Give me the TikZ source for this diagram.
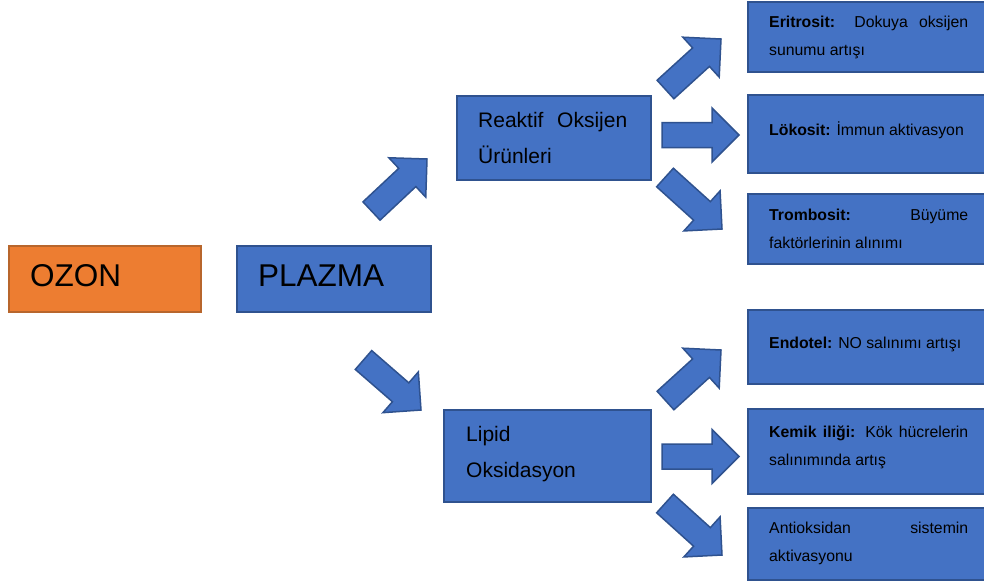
\documentclass[tikz,border=0pt]{standalone}
\usepackage{fontspec}
\setmainfont{Liberation Sans}
\usetikzlibrary{calc}
\definecolor{boxblue}{HTML}{4472C4}
\definecolor{boxblueline}{HTML}{2F528F}
\definecolor{ozonfill}{HTML}{ED7D31}
\definecolor{ozonline}{HTML}{B8662C}
\tikzset{
  bluebox/.style={rectangle, draw=boxblueline, fill=boxblue, line width=1.5pt, inner sep=0pt, anchor=north west},
  orangebox/.style={rectangle, draw=ozonline, fill=ozonfill, line width=1.5pt, inner sep=0pt, anchor=north west},
  lbl/.style={inner sep=0pt, anchor=base west, text=black},
  blockarrow/.style={draw=boxblueline, fill=boxblue, line width=1.5pt, line join=miter},
}
\newcommand\bigfnt{\fontsize{31.5}{36}\selectfont}
\newcommand\midfnt{\fontsize{21}{36}\selectfont}
\newcommand\smallfnt{\fontsize{15.8}{28}\selectfont}
% block arrow from tail coordinate #1 to tip coordinate #2
\newcommand\blockarr[2]{%
  \coordinate (#1-h) at ($(#2)!27pt!(#1)$);
  \path[blockarrow]
    ($(#1)!12.5pt!90:(#2)$) -- ($(#1-h)!12.5pt!90:(#2)$) -- ($(#1-h)!27pt!90:(#2)$)
    -- (#2)
    -- ($(#1-h)!27pt!-90:(#2)$) -- ($(#1-h)!12.5pt!-90:(#2)$) -- ($(#1)!12.5pt!-90:(#2)$) -- cycle;
}
\newcommand\justline[3]{\parbox[t]{#1}{\smallfnt\makebox[#1][s]{#2}\\#3}}
\begin{document}
\begin{tikzpicture}[x=1pt,y=-1pt]
\clip (0,0) rectangle (984,582);
\fill[white] (0,0) rectangle (984,582);

% main boxes
\node[orangebox, minimum width=192pt, minimum height=66pt] (ozon) at (8,245) {};
\node[bluebox, minimum width=194pt, minimum height=66pt] (plazma) at (236,245) {};
\node[bluebox, minimum width=194pt, minimum height=84pt] (reaktif) at (456,95) {};
\node[bluebox, minimum width=207pt, minimum height=92pt] (lipid) at (443,409) {};

% right boxes (run past the right edge)
\node[bluebox, minimum width=260pt, minimum height=70pt] (eri) at (747,1) {};
\node[bluebox, minimum width=260pt, minimum height=78pt] (lok) at (747,94) {};
\node[bluebox, minimum width=260pt, minimum height=70pt] (trom) at (747,193) {};
\node[bluebox, minimum width=260pt, minimum height=74pt] (endo) at (747,309) {};
\node[bluebox, minimum width=260pt, minimum height=85pt] (kemik) at (747,408) {};
\node[bluebox, minimum width=260pt, minimum height=72pt] (anti) at (747,507) {};

% texts
\node[lbl] (t-ozon) at (30,286) {\bigfnt OZON};
\node[lbl] (t-plazma) at (258,286) {\bigfnt PLAZMA};
\node[lbl] (t-reaktif) at (478,127) {\parbox[t]{149pt}{\midfnt\makebox[149pt][s]{Reaktif Oksijen}\\Ürünleri}};
\node[lbl] (t-lipid) at (466,441) {\parbox[t]{150pt}{\midfnt Lipid\\Oksidasyon}};

\node[lbl] (t-eri) at (769,27) {\justline{199pt}{\textbf{Eritrosit:} Dokuya oksijen}{sunumu artışı}};
\node[lbl] (t-lok) at (769,135) {\smallfnt\textbf{Lökosit:} İmmun aktivasyon};
\node[lbl] (t-trom) at (769,220) {\justline{199pt}{\textbf{Trombosit:} Büyüme}{faktörlerinin alınımı}};
\node[lbl] (t-endo) at (769,348) {\smallfnt\textbf{Endotel:} NO salınımı artışı};
\node[lbl] (t-kemik) at (769,437) {\justline{199pt}{\textbf{Kemik iliği:} Kök hücrelerin}{salınımında artış}};
\node[lbl] (t-anti) at (769,533) {\justline{199pt}{Antioksidan sistemin}{aktivasyonu}};

% arrow end points
\coordinate (a1t) at (371.5,211);   \coordinate (a1p) at (427,159);
\coordinate (a2t) at (363.5,360);   \coordinate (a2p) at (421,410);
\coordinate (r1t) at (665.5,89.5);  \coordinate (r1p) at (721,39);
\coordinate (r2t) at (662,135);     \coordinate (r2p) at (739,135);
\coordinate (r3t) at (665,177.5);   \coordinate (r3p) at (722,229);
\coordinate (l1t) at (665.5,400.5); \coordinate (l1p) at (721,350);
\coordinate (l2t) at (662,456.5);   \coordinate (l2p) at (739,456.5);
\coordinate (l3t) at (665,503.5);   \coordinate (l3p) at (722,555);

\blockarr{a1t}{a1p}
\blockarr{a2t}{a2p}
\blockarr{r1t}{r1p}
\blockarr{r2t}{r2p}
\blockarr{r3t}{r3p}
\blockarr{l1t}{l1p}
\blockarr{l2t}{l2p}
\blockarr{l3t}{l3p}
\end{tikzpicture}
\end{document}
